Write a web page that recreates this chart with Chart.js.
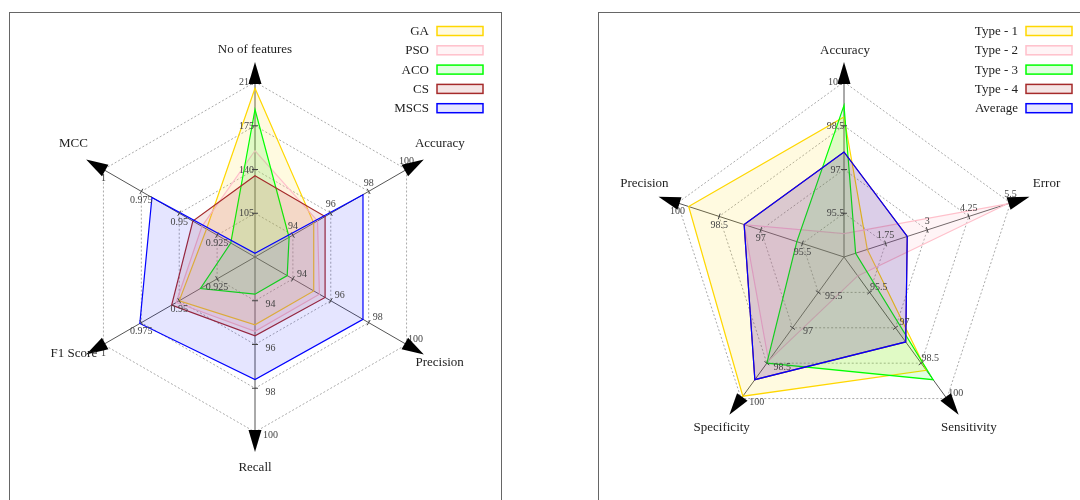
<!DOCTYPE html>
<html>
<head>
<meta charset="utf-8">
<script src="https://cdn.jsdelivr.net/npm/chart.js@4.4.0/dist/chart.umd.min.js"></script>
<style>
html,body{margin:0;padding:0;background:#fff;}
body{width:1080px;height:500px;position:relative;overflow:hidden;}
.panel{position:absolute;top:12px;border:1.5px solid #666;box-sizing:border-box;background:#fff;}
#p1{left:9px;width:493px;height:520px;}
#p2{left:598px;width:520px;height:520px;}
canvas{position:absolute;top:14px;}
#c1{left:11px;}
#c2{left:600px;}
</style>
</head>
<body>
<div class="panel" id="p1"></div>
<div class="panel" id="p2"></div>
<canvas id="c1" width="489" height="486"></canvas>
<canvas id="c2" width="480" height="486"></canvas>
<script>
// ---- Feature-selection comparison ----
const fsAxes = ['No of features', 'Accuracy', 'Precision', 'Recall', 'F1 Score', 'MCC'];
const fsAxisMin = [70, 92, 92, 92, 0.9, 0.9];
const fsAxisStep = [35, 2, 2, 2, 0.025, 0.025];
const fsTickLabels = [
  ['105', '140', '175', '210'],
  ['94', '96', '98', '100'],
  ['94', '96', '98', '100'],
  ['94', '96', '98', '100'],
  ['0.925', '0.95', '0.975', '1'],
  ['0.925', '0.95', '0.975', '1']
];
const fsSeries = ['GA', 'PSO', 'ACO', 'CS', 'MSCS'];
const gaValues   = [205, 95.1, 95.1, 95.1, 0.950, 0.932];
const psoValues  = [155, 95.3, 95.4, 95.4, 0.952, 0.935];
const acoValues  = [188, 93.8, 93.7, 93.7, 0.936, 0.916];
const csValues   = [135, 95.7, 95.7, 95.6, 0.955, 0.941];
const mscsValues = [73, 97.7, 97.7, 97.6, 0.976, 0.968];

// ---- Per-type performance ----
const typeAxes = ['Accuracy', 'Error', 'Sensitivity', 'Specificity', 'Precision'];
const typeAxisMin = [94, 0.5, 94, 94, 94];
const typeAxisStep = [1.5, 1.25, 1.5, 1.5, 1.5];
const typeTickLabels = [
  ['95.5', '97', '98.5', '100'],
  ['1.75', '3', '4.25', '5.5'],
  ['95.5', '97', '98.5', '100'],
  ['95.5', '97', '98.5', '100'],
  ['95.5', '97', '98.5', '100']
];
const typeSeries = ['Type - 1', 'Type - 2', 'Type - 3', 'Type - 4', 'Average'];
const type1Values = [98.8, 1.2, 98.8, 99.9, 99.6];
const type2Values = [94.8, 5.4, 94.8, 98.4, 97.6];
const type3Values = [99.2, 0.85, 99.2, 98.5, 95.7];
const type4Values = [97.6, 2.4, 97.6, 99.2, 97.6];
const averageValues = [97.6, 2.4, 97.6, 99.2, 97.6];

const palette = [
  {line: 'rgb(255,215,0)',  fill: 'rgba(255,215,0,0.12)'},
  {line: 'rgb(255,192,203)', fill: 'rgba(255,192,203,0.18)'},
  {line: 'rgb(0,255,0)',    fill: 'rgba(0,255,0,0.12)'},
  {line: 'rgb(165,42,42)',  fill: 'rgba(165,42,42,0.12)'},
  {line: 'rgb(0,0,255)',    fill: 'rgba(0,0,255,0.1)'}
];

const SERIF = '"Liberation Serif", "Times New Roman", serif';

// each axis has its own range: map values onto ring units 0..4
function toRings(values, mins, steps) {
  return values.map((v, i) => (v - mins[i]) / steps[i]);
}

function tickOffset(deg) {
  if (deg < 30 || deg > 330) return [-8.5, 0.5];
  if (deg < 100) return [0, -8.5];
  if (deg < 160) return [9, -5];
  if (deg < 230) return [15.5, 3.7];
  return [0, 8.7];
}

const axisDecor = {
  id: 'axisDecor',
  afterDatasetsDraw(chart, args, opts) {
    const s = chart.scales.r;
    const ctx = chart.ctx;
    const n = chart.data.labels.length;
    ctx.save();
    for (let i = 0; i < n; i++) {
      const deg = 360 * i / n;
      const a = s.getIndexAngle(i) - Math.PI / 2;
      const ux = Math.cos(a), uy = Math.sin(a);
      // tick marks and per-axis tick labels
      for (let k = 1; k <= 4; k++) {
        const p = s.getPointPosition(i, s.getDistanceFromCenterForValue(k));
        ctx.strokeStyle = '#444';
        ctx.lineWidth = 1;
        ctx.beginPath();
        ctx.moveTo(p.x - uy * 3, p.y + ux * 3);
        ctx.lineTo(p.x + uy * 3, p.y - ux * 3);
        ctx.stroke();
        const off = tickOffset(deg);
        ctx.fillStyle = '#444';
        ctx.font = '10px ' + SERIF;
        ctx.textAlign = 'center';
        ctx.textBaseline = 'middle';
        ctx.fillText(opts.ticks[i][k - 1], p.x + off[0], p.y + off[1]);
      }
      // arrow head at the end of the axis
      const tip = s.getPointPosition(i, 195);
      const base = s.getPointPosition(i, 173);
      ctx.fillStyle = '#000';
      ctx.beginPath();
      ctx.moveTo(tip.x, tip.y);
      ctx.lineTo(base.x - uy * 6.5, base.y + ux * 6.5);
      ctx.lineTo(base.x + uy * 6.5, base.y - ux * 6.5);
      ctx.closePath();
      ctx.fill();
      // axis title
      const t = s.getPointPosition(i, 212.5);
      const shift = opts.titleShift[i];
      ctx.fillStyle = '#222';
      ctx.font = '13px ' + SERIF;
      ctx.textAlign = 'center';
      ctx.textBaseline = 'middle';
      ctx.fillText(chart.data.labels[i], t.x + shift[0], t.y + shift[1]);
    }
    ctx.restore();
  },
  afterDraw(chart) {
    // legend: name on the left, swatch on the right
    const ctx = chart.ctx;
    ctx.save();
    chart.data.datasets.forEach((ds, j) => {
      const cy = 17 + j * 19.3;
      ctx.fillStyle = '#222';
      ctx.font = '13px ' + SERIF;
      ctx.textAlign = 'right';
      ctx.textBaseline = 'middle';
      ctx.fillText(ds.label, 418, cy + 0.5);
      ctx.fillStyle = ds.backgroundColor;
      ctx.fillRect(426, cy - 4.5, 46, 9);
      ctx.strokeStyle = ds.borderColor;
      ctx.lineWidth = 1.5;
      ctx.strokeRect(426, cy - 4.5, 46, 9);
    });
    ctx.restore();
  }
};

function makeRadar(canvasId, axes, series, valueSets, mins, steps, ticks, titleShift, padRight) {
  return new Chart(document.getElementById(canvasId), {
    type: 'radar',
    data: {
      labels: axes,
      datasets: series.map((name, j) => ({
        label: name,
        data: toRings(valueSets[j], mins, steps),
        borderColor: palette[j].line,
        backgroundColor: palette[j].fill,
        borderWidth: 1.2,
        fill: 'start',
        pointRadius: 0,
        order: series.length - j
      }))
    },
    options: {
      responsive: false,
      animation: false,
      devicePixelRatio: 1,
      layout: {padding: {left: 69, right: padRight, top: 68, bottom: 68}},
      plugins: {
        legend: {display: false},
        tooltip: {enabled: false},
        axisDecor: {ticks: ticks, titleShift: titleShift}
      },
      elements: {line: {tension: 0}},
      scales: {
        r: {
          min: 0,
          max: 4,
          ticks: {display: false, stepSize: 1},
          pointLabels: {display: false},
          grid: {circular: false, color: '#aaa', lineWidth: 1},
          border: {dash: [2, 2]},
          angleLines: {color: '#555', lineWidth: 1}
        }
      }
    },
    plugins: [axisDecor]
  });
}

makeRadar('c1', fsAxes, fsSeries, [gaValues, psoValues, acoValues, csValues, mscsValues],
  fsAxisMin, fsAxisStep, fsTickLabels,
  [[0, 5.5], [0.8, -6.8], [0.6, -0.5], [0, -1.8], [2.9, -10], [2.5, -7.5]], 70);
makeRadar('c2', typeAxes, typeSeries, [type1Values, type2Values, type3Values, type4Values, averageValues],
  typeAxisMin, typeAxisStep, typeTickLabels,
  [[1, 5.7], [0.4, -7.3], [0, -1.2], [2.6, -1.2], [2.5, -7.3]], 61);
</script>
</body>
</html>
